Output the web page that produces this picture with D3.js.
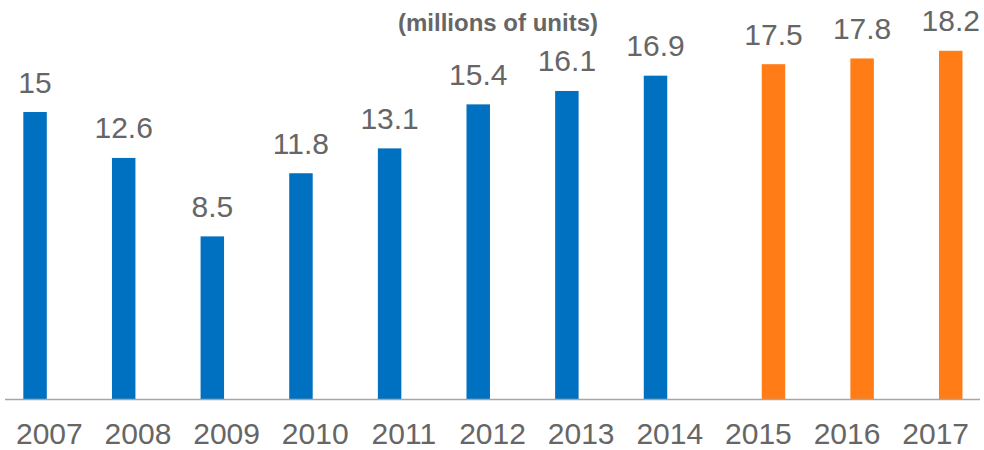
<!DOCTYPE html>
<html>
<head>
<meta charset="utf-8">
<script src="https://cdn.jsdelivr.net/npm/d3@7"></script>
<style>
  html, body { margin: 0; padding: 0; background: #fff; }
  svg { display: block; font-family: Arial, "Liberation Sans", sans-serif; }
</style>
</head>
<body>
<svg id="chart" width="984" height="450"></svg>
<script>
// Unit sales per year, actual and forecast
const years = ["2007","2008","2009","2010","2011","2012","2013","2014","2015","2016","2017"];
const actualYears = ["2007","2008","2009","2010","2011","2012","2013","2014"];
const actualValues = [15, 12.6, 8.5, 11.8, 13.1, 15.4, 16.1, 16.9];
const forecastYears = ["2015","2016","2017"];
const forecastValues = [17.5, 17.8, 18.2];
const seriesNames = ["actual", "forecast"];
const seriesColors = ["#0070C0", "#FF7C17"];
const unitsLabel = "(millions of units)";

const rows = [
  ...actualYears.map((y, i) => ({ year: y, series: "actual", value: actualValues[i] })),
  ...forecastYears.map((y, i) => ({ year: y, series: "forecast", value: forecastValues[i] }))
];

const svg = d3.select("#chart");
const baseY = 399;
const textGrey = "#666666";

const x = d3.scaleBand().domain(years).range([5, 980]).padding(0);
const inner = d3.scaleBand().domain(seriesNames).range([-26, 26.8]).paddingInner(0.2);
const y = d3.scaleLinear().domain([0, 18.2]).range([baseY, 50.8]);
const color = d3.scaleOrdinal().domain(seriesNames).range(seriesColors);

const center = d => x(d) + x.bandwidth() / 2;

// bars
svg.append("g").selectAll("rect")
  .data(rows)
  .join("rect")
  .attr("x", d => center(d.year) + inner(d.series))
  .attr("y", d => y(d.value))
  .attr("width", inner.bandwidth())
  .attr("height", d => y(0) - y(d.value))
  .attr("fill", d => color(d.series));

// value labels
svg.append("g").selectAll("text")
  .data(rows)
  .join("text")
  .attr("x", d => center(d.year) + inner(d.series) + inner.bandwidth() / 2)
  .attr("y", d => y(d.value) - 19.5)
  .attr("text-anchor", "middle")
  .attr("font-size", 30)
  .attr("fill", textGrey)
  .text(d => String(d.value));

// category axis
const axis = svg.append("g")
  .attr("transform", `translate(0,${baseY})`)
  .call(d3.axisBottom(x).tickSize(0).tickPadding(0));
axis.select(".domain").attr("stroke", "#A6A6A6").attr("stroke-width", 1.5).attr("d", "M5,0.5H980");
axis.selectAll(".tick text")
  .attr("font-size", 30)
  .attr("fill", textGrey)
  .attr("font-family", "Arial, 'Liberation Sans', sans-serif")
  .attr("dy", null)
  .attr("y", 44.5);

// units note
svg.append("text")
  .attr("x", 498)
  .attr("y", 31)
  .attr("text-anchor", "middle")
  .attr("font-size", 24)
  .attr("font-weight", "bold")
  .attr("fill", textGrey)
  .text(unitsLabel);
</script>
</body>
</html>
